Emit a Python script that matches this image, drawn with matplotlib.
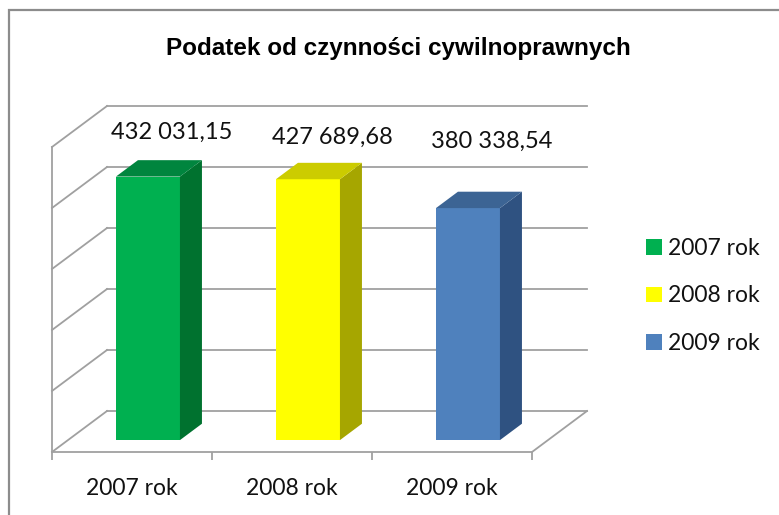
import matplotlib
matplotlib.use('agg')
import matplotlib.pyplot as plt
from matplotlib.patches import Patch, Rectangle

categories = ["2007 rok", "2008 rok", "2009 rok"]
values = [432031.15, 427689.68, 380338.54]
front_colors = ["#00B050", "#FFFF00", "#4F81BD"]
side_colors = ["#00722F", "#A6A600", "#2F5281"]
top_colors = ["#00853E", "#CCCC00", "#3C6494"]
title = "Podatek od czynności cywilnoprawnych"
grid_values = [0, 100000, 200000, 300000, 400000, 500000]

W, H = 779, 515
DX = 55 / 160.0          # depth shift in category units
DY = 41 / 61.0 * 1e5     # depth shift in value units
D0, D1 = 0.29, 0.69      # bar depth range (fraction of full depth)
BW = 0.4
GRID = "#A0A0A0"
FONT = ["Lato", "DejaVu Sans"]

fig = plt.figure(figsize=(W / 100, H / 100), dpi=100)
fig.patch.set_facecolor('white')

# outer chart border (right/bottom edges fall outside the crop)
fig.patches.append(Rectangle((9 / W, -0.2), 1.2, 1 - 10 / H + 0.2, transform=fig.transFigure,
                             fill=False, edgecolor="#8C8C8C", lw=1.6))

ax = fig.add_axes([52 / W, 63 / H, 480 / W, 305 / H])
ax.set_xlim(-0.5, 2.5)
ax.set_ylim(0, 500000)
ax.patch.set_visible(False)
for s in ['top', 'right']:
    ax.spines[s].set_visible(False)
for s in ['left', 'bottom']:
    ax.spines[s].set_color(GRID)
    ax.spines[s].set_linewidth(1.3)
    ax.spines[s].set_zorder(1)
ax.set_yticks([])

# category boundaries as ticks, names as minor ticks
ax.set_xticks([-0.5, 0.5, 1.5, 2.5])
ax.set_xticklabels([])
ax.tick_params(axis='x', which='major', length=6, width=1.3, color=GRID, direction='out')
ax.set_xticks(range(len(categories)), minor=True)
ax.set_xticklabels(categories, minor=True, fontsize=16.5, family=FONT, color="#111111")
ax.tick_params(axis='x', which='minor', length=0, pad=19)

# walls
for v in grid_values:
    ax.plot([-0.5 + DX, 2.5 + DX], [v + DY, v + DY], color=GRID, lw=1.3, clip_on=False, zorder=1)
    ax.plot([-0.5, -0.5 + DX], [v, v + DY], color=GRID, lw=1.3, clip_on=False, zorder=1)
ax.plot([2.5, 2.5 + DX], [0, DY], color=GRID, lw=1.3, clip_on=False, zorder=1)

# 3d bars
for i, v in enumerate(values):
    xl = i - BW / 2
    xr = i + BW / 2
    ax.bar(i + D0 * DX, v, width=BW, bottom=D0 * DY, color=front_colors[i],
           lw=0, clip_on=False, zorder=3)
    ax.fill([xr + D0 * DX, xr + D1 * DX, xr + D1 * DX, xr + D0 * DX],
            [D0 * DY, D1 * DY, v + D1 * DY, v + D0 * DY],
            color=side_colors[i], lw=0, clip_on=False, zorder=3)
    ax.fill([xl + D0 * DX, xr + D0 * DX, xr + D1 * DX, xl + D1 * DX],
            [v + D0 * DY, v + D0 * DY, v + D1 * DY, v + D1 * DY],
            color=top_colors[i], lw=0, clip_on=False, zorder=3)
    label = f"{v:,.2f}".replace(",", " ").replace(".", ",")
    ax.text(i + 0.25, 500000 + 0.35 * DY - i * 7000, label, ha='center', va='center',
            fontsize=17, family=FONT, color="#111111", zorder=4)

fig.text(0.512, 1 - 48 / H, title, ha='center', va='center', fontsize=17.5,
         fontweight='bold', family=["Liberation Sans Narrow", "Liberation Sans", "DejaVu Sans"])

handles = [Patch(facecolor=c, edgecolor='none') for c in front_colors]
leg = fig.legend(handles, categories, loc='center left', bbox_to_anchor=(646 / W, 1 - 296 / H),
                 frameon=False, borderpad=0, borderaxespad=0, labelspacing=1.15,
                 handlelength=0.68, handleheight=0.68, handletextpad=0.3,
                 prop={'family': FONT, 'size': 16.5})
for t in leg.get_texts():
    t.set_color("#111111")

plt.savefig('out.png', dpi=100, facecolor='white')
plt.close()
